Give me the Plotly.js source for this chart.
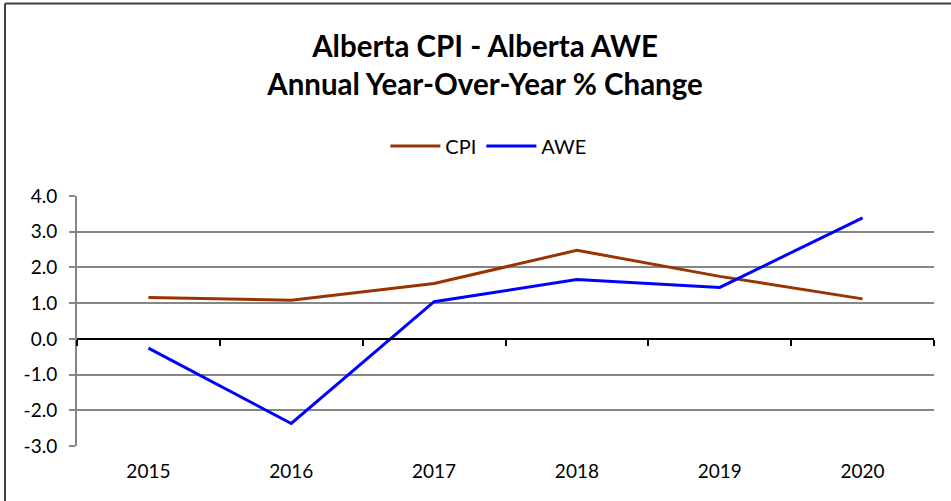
<!DOCTYPE html>
<html>
<head>
<meta charset="utf-8">
<script src="https://cdn.plot.ly/plotly-3.0.1.min.js"></script>
<style>html,body{margin:0;padding:0;background:#fff;}#chart{width:951px;height:501px;}</style>
</head>
<body>
<div id="chart"></div>
<script>
const years = ['2015','2016','2017','2018','2019','2020'];
const cpi = [1.16, 1.08, 1.55, 2.48, 1.75, 1.12];
const awe = [-0.26, -2.37, 1.04, 1.66, 1.44, 3.39];
const yTicks = [-3, -2, -1, 0, 1, 2, 3, 4];

const xs = years.map((_, i) => i);
const boundaries = [];
for (let i = 0; i <= years.length; i++) boundaries.push(i - 0.5);

const FONT = 'Lato, "Open Sans", sans-serif';

const traces = [
  {x: xs, y: cpi, name: 'CPI', type: 'scatter', mode: 'lines',
   line: {color: '#993300', width: 3}},
  {x: xs, y: awe, name: 'AWE', type: 'scatter', mode: 'lines',
   line: {color: '#0000FF', width: 3}},
  {x: [0], y: [0], xaxis: 'x2', yaxis: 'y', mode: 'markers', showlegend: false,
   hoverinfo: 'skip', marker: {opacity: 0}}
];

const layout = {
  width: 951, height: 501,
  margin: {l: 77, r: 17, t: 196, b: 55},
  paper_bgcolor: '#fff', plot_bgcolor: '#fff',
  font: {family: FONT, color: '#000', size: 19},
  title: {text: '<b>Alberta CPI - Alberta AWE<br>Annual Year-Over-Year % Change</b>',
          font: {family: FONT, size: 29.5, color: '#000', lineheight: 1.2},
          x: 0.51, xanchor: 'center', y: 0.886, yanchor: 'middle'},
  showlegend: true,
  legend: {orientation: 'h', x: 0.48, xanchor: 'center', y: 1.2, yanchor: 'middle',
           font: {family: FONT, size: 20, color: '#000'}, itemwidth: 50, tracegroupgap: 0},
  xaxis: {range: [-0.5, 5.5], tickmode: 'array', tickvals: xs, ticktext: years,
          showgrid: false, zeroline: false, showline: false, ticks: '',
          ticklabelstandoff: 12,
          tickfont: {family: FONT, size: 19, color: '#000'}, fixedrange: true},
  xaxis2: {overlaying: 'x', anchor: 'free', position: 3/7, range: [-0.5, 5.5],
           tickmode: 'array', tickvals: boundaries, showticklabels: false,
           showline: true, linecolor: '#000', linewidth: 2,
           ticks: 'outside', ticklen: 6, tickwidth: 2, tickcolor: '#000',
           showgrid: false, zeroline: false},
  yaxis: {range: [-3, 4], tickmode: 'array', tickvals: yTicks,
          ticktext: yTicks.map(v => v.toFixed(1)),
          showgrid: true, gridcolor: '#868686', gridwidth: 2,
          zeroline: false, showline: true, linecolor: '#868686', linewidth: 2,
          ticks: 'outside', ticklen: 6, tickwidth: 2, tickcolor: '#868686',
          ticklabelstandoff: 8,
          tickfont: {family: FONT, size: 19, color: '#000'}, fixedrange: true},
  shapes: [
    {type: 'line', xref: 'paper', yref: 'paper', x0: -0.084, x1: -0.084, y0: 1.77, y1: -0.3,
     line: {color: '#404040', width: 2}},
    {type: 'line', xref: 'paper', yref: 'paper', x0: -0.084, x1: 1.05, y0: 1.77, y1: 1.77,
     line: {color: '#404040', width: 2}}
  ]
};

Plotly.newPlot('chart', traces, layout, {displayModeBar: false, staticPlot: true});
</script>
</body>
</html>
